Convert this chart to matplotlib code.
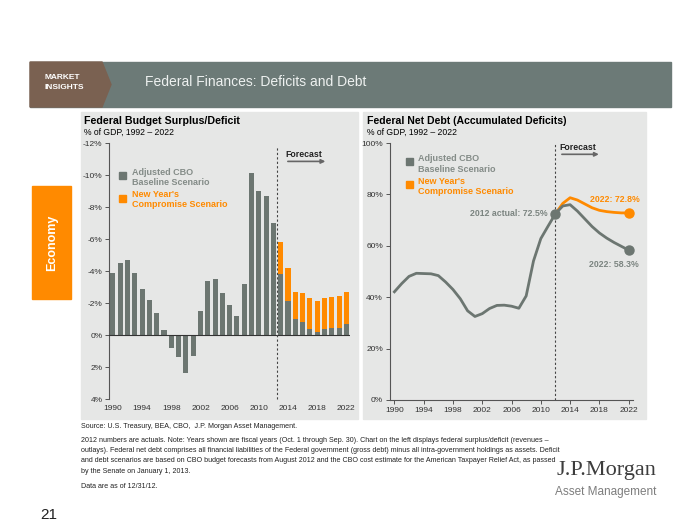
import matplotlib
matplotlib.use('Agg')
import matplotlib.pyplot as plt
from matplotlib.patches import Rectangle, Polygon

plt.rcParams['font.family'] = ['Liberation Sans', 'DejaVu Sans']

W, H = 700, 525

# 左チャート: 財政収支 (% of GDP)
actual_years = list(range(1990, 2013))
deficit_actual = [-3.9, -4.5, -4.7, -3.9, -2.9, -2.2, -1.4, -0.3, 0.8, 1.4, 2.4, 1.3,
                  -1.5, -3.4, -3.5, -2.6, -1.9, -1.2, -3.2, -10.1, -9.0, -8.7, -7.0]
forecast_years = list(range(2013, 2023))
deficit_baseline = [-3.8, -2.1, -1.0, -0.8, -0.4, -0.2, -0.4, -0.45, -0.45, -0.7]
deficit_compromise = [-5.8, -4.2, -2.7, -2.6, -2.3, -2.1, -2.3, -2.4, -2.45, -2.7]
deficit_ticks = [-12, -10, -8, -6, -4, -2, 0, 2, 4]

# 右チャート: 純債務 (% of GDP)
debt_years = list(range(1990, 2013))
debt_actual = [42.1, 45.3, 48.1, 49.3, 49.2, 49.1, 48.4, 45.9, 43.0, 39.4, 34.7, 32.5,
               33.6, 35.6, 36.8, 36.9, 36.5, 35.7, 40.5, 54.1, 62.8, 67.7, 72.5]
debt_fc_years = list(range(2012, 2023))
debt_baseline = [72.5, 75.5, 76.0, 73.5, 70.5, 67.5, 65.0, 63.0, 61.3, 59.8, 58.3]
debt_compromise = [72.5, 76.5, 78.7, 77.8, 76.3, 74.8, 73.8, 73.3, 73.0, 72.8, 72.8]
debt_ticks = [0, 20, 40, 60, 80, 100]

year_ticks = list(range(1990, 2023, 4))

GREY = '#6c7671'
ORANGE = '#ff8a00'
PANEL = '#e6e7e6'
HEADER = '#6c7a77'
BROWN = '#7a6151'
LEGTXT = '#848c88'
AXIS = '#555555'


def fx( px ):
    return px / W


def fy( py ):
    return 1 - py / H


fig = plt.figure( figsize=( 7, 5.25 ), dpi=100 )
fig.patch.set_facecolor( 'white' )

# ヘッダー
fig.patches.append( Rectangle(( fx( 30 ), fy( 107 ) ), fx( 671 ) - fx( 30 ), fy( 62 ) - fy( 107 ),
                              transform=fig.transFigure, color=HEADER, zorder=-2 ))
fig.patches.append( Polygon( [( fx( 30 ), fy( 62 ) ), ( fx( 102 ), fy( 62 ) ), ( fx( 111 ), fy( 84.5 ) ),
                              ( fx( 102 ), fy( 107 ) ), ( fx( 30 ), fy( 107 ) )],
                            closed=True, transform=fig.transFigure, color=BROWN, zorder=-1 ))
fig.text( fx( 45 ), fy( 77 ), 'MARKET', color='white', fontsize=6, fontweight='bold', va='center' )
fig.text( fx( 45 ), fy( 88 ), 'INSIGHTS', color='white', fontsize=6, fontweight='bold', va='center' )
fig.text( fx( 145 ), fy( 82 ), 'Federal Finances: Deficits and Debt', color='#eef1f0',
          fontsize=10, va='center' )

# Economy タブ
fig.patches.append( Rectangle(( fx( 32 ), fy( 299 ) ), fx( 71 ) - fx( 32 ), fy( 186 ) - fy( 299 ),
                              transform=fig.transFigure, color=ORANGE, zorder=-2 ))
fig.text( fx( 52 ), fy( 243 ), 'Economy', color='white', fontsize=9, fontweight='bold',
          rotation=90, ha='center', va='center' )

# パネル背景
fig.patches.append( Rectangle(( fx( 81 ), fy( 419 ) ), fx( 358 ) - fx( 81 ), fy( 112 ) - fy( 419 ),
                              transform=fig.transFigure, color=PANEL, zorder=-2 ))
fig.patches.append( Rectangle(( fx( 363 ), fy( 419 ) ), fx( 646 ) - fx( 363 ), fy( 112 ) - fy( 419 ),
                              transform=fig.transFigure, color=PANEL, zorder=-2 ))

# タイトル
fig.text( fx( 84 ), fy( 121.5 ), 'Federal Budget Surplus/Deficit', fontsize=7.7, fontweight='bold', va='center' )
fig.text( fx( 84 ), fy( 132.5 ), '% of GDP, 1992 – 2022', fontsize=6.2, va='center' )
fig.text( fx( 367 ), fy( 121.5 ), 'Federal Net Debt (Accumulated Deficits)', fontsize=7.6, fontweight='bold', va='center' )
fig.text( fx( 367 ), fy( 132.5 ), '% of GDP, 1992 – 2022', fontsize=6.2, va='center' )

# ---- 左チャート ----
ax1 = fig.add_axes( [fx( 109.3 ), fy( 399 ), fx( 350 ) - fx( 109.3 ), fy( 143 ) - fy( 399 )] )
ax1.set_zorder( 2 )
ax1.patch.set_alpha( 0 )
ax1.bar( actual_years, deficit_actual, width=0.7, color=GREY, zorder=2 )
ax1.bar( forecast_years, deficit_compromise, width=0.7, color=ORANGE, zorder=2 )
ax1.bar( forecast_years, deficit_baseline, width=0.7, color=GREY, zorder=3 )
ax1.axhline( 0, color='#333333', lw=0.8, zorder=4 )
ax1.set_xlim( 1989.5, 2022.5 )
ax1.set_ylim( 4, -12 )
ax1.set_yticks( deficit_ticks )
ax1.set_yticklabels( [f'{t}%' for t in deficit_ticks] )
ax1.set_xticks( year_ticks )
ax1.set_xticklabels( [str( y ) for y in year_ticks] )
for s in ['top', 'right', 'bottom']:
    ax1.spines[s].set_visible( False )
ax1.spines['left'].set_color( AXIS )
ax1.tick_params( axis='y', length=3, width=0.7, color=AXIS, labelsize=6, pad=2, labelcolor='#333333' )
ax1.tick_params( axis='x', length=0, labelsize=6, pad=4, labelcolor='#333333' )
ax1.plot( [2012.5, 2012.5], [4, -11.8], color='#444444', lw=0.8, ls=( 0, ( 2, 2 ) ), clip_on=False, zorder=5 )
ax1.text( 2013.6, -11.3, 'Forecast', fontsize=6.3, fontweight='bold', va='center', color='#222222' )
ax1.annotate( '', xy=( 2019.5, -10.85 ), xytext=( 2013.6, -10.85 ),
              arrowprops=dict( arrowstyle='-|>', color='#666666', lw=1.2, mutation_scale=6 ))

# ---- 右チャート ----
ax2 = fig.add_axes( [fx( 390 ), fy( 400 ), fx( 632.7 ) - fx( 390 ), fy( 143 ) - fy( 400 )] )
ax2.set_zorder( 2 )
ax2.patch.set_alpha( 0 )
ax2.plot( debt_years, debt_actual, color=GREY, lw=2, zorder=3, solid_joinstyle='round' )
ax2.plot( debt_fc_years, debt_compromise, color=ORANGE, lw=2, zorder=3 )
ax2.plot( debt_fc_years, debt_baseline, color=GREY, lw=2, zorder=4 )
ax2.plot( [debt_years[-1]], [debt_actual[-1]], 'o', color=GREY, ms=6.5, zorder=6 )
ax2.plot( [debt_fc_years[-1]], [debt_compromise[-1]], 'o', color=ORANGE, ms=6.5, zorder=6, clip_on=False )
ax2.plot( [debt_fc_years[-1]], [debt_baseline[-1]], 'o', color=GREY, ms=6.5, zorder=6, clip_on=False )
ax2.set_xlim( 1989.4, 2022.55 )
ax2.set_ylim( 0, 100 )
ax2.set_yticks( debt_ticks )
ax2.set_yticklabels( [f'{t}%' for t in debt_ticks] )
ax2.set_xticks( year_ticks )
ax2.set_xticklabels( [str( y ) for y in year_ticks] )
for s in ['top', 'right']:
    ax2.spines[s].set_visible( False )
for s in ['left', 'bottom']:
    ax2.spines[s].set_color( AXIS )
ax2.tick_params( length=3, width=0.7, color=AXIS, labelsize=6, pad=2, labelcolor='#333333' )
ax2.plot( [2012, 2012], [0, 100], color='#444444', lw=0.8, ls=( 0, ( 2, 2 ) ), zorder=2, clip_on=False )
ax2.text( 2012.5, 98.3, 'Forecast', fontsize=6.3, fontweight='bold', va='center', color='#222222' )
ax2.annotate( '', xy=( 2018.3, 95.6 ), xytext=( 2012.5, 95.6 ),
              arrowprops=dict( arrowstyle='-|>', color='#666666', lw=1.2, mutation_scale=6 ))
ax2.annotate( f'2012 actual: {debt_actual[-1]}%', xy=( debt_years[-1], debt_actual[-1] ),
              xytext=( -6, 0 ), textcoords='offset points', ha='right', va='center',
              fontsize=6.3, fontweight='bold', color='#7b8480' )
ax2.annotate( f'2022: {debt_compromise[-1]}%', xy=( debt_fc_years[-1], debt_compromise[-1] ),
              xytext=( -10, 10 ), textcoords='offset points', ha='center', va='center',
              fontsize=6.3, fontweight='bold', color=ORANGE )
ax2.annotate( f'2022: {debt_baseline[-1]}%', xy=( debt_fc_years[-1], debt_baseline[-1] ),
              xytext=( -11, -10 ), textcoords='offset points', ha='center', va='center',
              fontsize=6.3, fontweight='bold', color='#7b8480' )

# 凡例（両チャート）
for mx, my in [( 122.7, 175 ), ( 409.3, 161.7 )]:
    fig.patches.append( Rectangle(( fx( mx - 3.5 ), fy( my + 3.5 ) ), 7 / W, 7 / H,
                                  transform=fig.transFigure, color=GREY, zorder=5 ))
    fig.patches.append( Rectangle(( fx( mx - 3.5 ), fy( my + 26.5 ) ), 7 / W, 7 / H,
                                  transform=fig.transFigure, color=ORANGE, zorder=5 ))
    fig.text( fx( mx + 9 ), fy( my - 3 ), 'Adjusted CBO', fontsize=6.5, fontweight='bold', color=LEGTXT, va='center' )
    fig.text( fx( mx + 9 ), fy( my + 7.5 ), 'Baseline Scenario', fontsize=6.5, fontweight='bold', color=LEGTXT, va='center' )
    fig.text( fx( mx + 9 ), fy( my + 19.5 ), "New Year's", fontsize=6.5, fontweight='bold', color=ORANGE, va='center' )
    fig.text( fx( mx + 9 ), fy( my + 30 ), 'Compromise Scenario', fontsize=6.5, fontweight='bold', color=ORANGE, va='center' )

# フッター
notes = [
    ( 427, 'Source: U.S. Treasury, BEA, CBO,  J.P. Morgan Asset Management.' ),
    ( 440.5, '2012 numbers are actuals. Note: Years shown are fiscal years (Oct. 1 through Sep. 30). Chart on the left displays federal surplus/deficit (revenues –' ),
    ( 450.5, 'outlays). Federal net debt comprises all financial liabilities of the Federal government (gross debt) minus all intra-government holdings as assets. Deficit' ),
    ( 461, 'and debt scenarios are based on CBO budget forecasts from August 2012 and the CBO cost estimate for the American Taxpayer Relief Act, as passed' ),
    ( 471.5, 'by the Senate on January 1, 2013.' ),
    ( 487, 'Data are as of 12/31/12.' ),
]
for py, txt in notes:
    fig.text( fx( 81 ), fy( py ), txt, fontsize=5.1, va='center', color='#222222' )

fig.text( fx( 40 ), fy( 515 ), '21', fontsize=11, va='center', color='#222222' )
fig.text( fx( 656 ), fy( 470 ), 'J.P.Morgan', fontsize=16, ha='right', va='center',
          family=['Liberation Serif', 'DejaVu Serif'], color='#3d3d3d' )
fig.text( fx( 656 ), fy( 492 ), 'Asset Management', fontsize=8.5, ha='right', va='center', color='#7d7d7d' )

fig.savefig( 'out.png', dpi=100 )
